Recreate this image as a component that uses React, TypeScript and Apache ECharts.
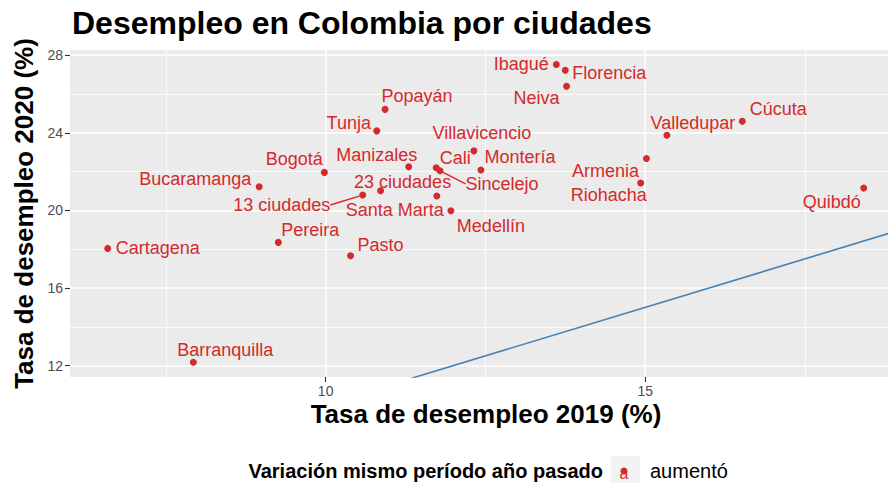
import React, { useEffect, useRef } from "react";
import * as echarts from "echarts";

// ---- data ----
const cities = [
  "Cartagena", "Barranquilla", "Pereira", "Pasto", "Bucaramanga", "Bogotá",
  "13 ciudades", "23 ciudades", "Tunja", "Popayán", "Manizales", "Cali",
  "Sincelejo", "Santa Marta", "Medellín", "Villavicencio", "Montería",
  "Ibagué", "Florencia", "Neiva", "Armenia", "Riohacha", "Valledupar",
  "Cúcuta", "Quibdó",
];
const desempleo2019 = [
  6.59, 7.93, 9.26, 10.39, 8.96, 9.98,
  10.58, 10.86, 10.8, 10.93, 11.3, 11.73,
  11.79, 11.74, 11.96, 12.32, 12.43,
  13.61, 13.75, 13.77, 15.02, 14.93, 15.34,
  16.52, 18.42,
];
const desempleo2020 = [
  18.04, 12.17, 18.35, 17.66, 21.22, 21.96,
  20.79, 21.01, 24.1, 25.21, 22.25, 22.2,
  22.04, 20.74, 19.98, 23.07, 22.08,
  27.52, 27.23, 26.4, 22.68, 21.41, 23.87,
  24.6, 21.15,
];
const xMajorTicks = [10, 15];
const xMinorTicks = [7.5, 12.5, 17.5];
const yMajorTicks = [12, 16, 20, 24, 28];
const yMinorTicks = [14, 18, 22, 26];
const xRange = [6.0, 18.8];
const yRange = [11.41, 28.27];
const titleText = "Desempleo en Colombia por ciudades";
const xTitle = "Tasa de desempleo 2019 (%)";
const yTitle = "Tasa de desempleo 2020 (%)";
const legendTitle = "Variación mismo período año pasado";
const legendLabel = "aumentó";

// ---- label placement (repel-style nudges, px) ----
const labelNudge: Record<string, [number, number]> = {
  "Cartagena": [50, 0],
  "Barranquilla": [32, -12],
  "Pereira": [32, -12],
  "Pasto": [30, -11],
  "Bucaramanga": [-64, -8],
  "Bogotá": [-30, -13],
  "13 ciudades": [-81, 10],
  "23 ciudades": [22, -9],
  "Tunja": [-28, -8],
  "Popayán": [32, -13],
  "Manizales": [-32, -12],
  "Cali": [19, -10],
  "Sincelejo": [62, 13],
  "Santa Marta": [-42, 14],
  "Medellín": [40, 15],
  "Villavicencio": [8, -18],
  "Montería": [39, -13],
  "Ibagué": [-35, -1],
  "Florencia": [44, 3],
  "Neiva": [-30, 12],
  "Armenia": [-41, 13],
  "Riohacha": [-32, 12],
  "Valledupar": [26, -12],
  "Cúcuta": [36, -12],
  "Quibdó": [-32, 14],
};
const withSegment = ["13 ciudades", "Sincelejo"];

const RED = "#D42A2B";
const FONT = '"Liberation Sans", Arial, Helvetica, sans-serif';

export default function App() {
  const ref = useRef<HTMLDivElement>(null);
  useEffect(() => {
    if (!ref.current) return;
    const chart = echarts.init(ref.current, undefined, { renderer: "svg" });
    const lo = Math.min(xRange[0], yRange[0]);
    const hi = Math.max(xRange[1], yRange[1]);
    const identity = [[lo, lo], [hi, hi]];
    const points = cities.map((c, i) => ({
      name: c,
      value: [desempleo2019[i], desempleo2020[i]],
      labelLine: withSegment.includes(c)
        ? { show: true, lineStyle: { color: RED, width: 1.5 } }
        : { show: false },
    }));
    const option: any = {
      animation: false,
      backgroundColor: "#FFFFFF",
      textStyle: { fontFamily: FONT },
      title: {
        text: titleText,
        left: 72,
        top: 7,
        padding: 0,
        textStyle: { fontSize: 32, fontWeight: "bold", color: "#000", fontFamily: FONT },
      },
      grid: {
        left: 70,
        top: 50,
        width: 818,
        height: 327,
        show: true,
        backgroundColor: "#EBEBEB",
        borderWidth: 0,
      },
      xAxis: [
        {
          type: "value",
          min: xRange[0],
          max: xRange[1],
          position: "bottom",
          axisLine: { show: false },
          axisTick: { show: true, length: 5, lineStyle: { color: "#333333", width: 1.1 }, customValues: xMajorTicks },
          axisLabel: { customValues: xMajorTicks, color: "#4D4D4D", fontSize: 14, margin: 7, fontFamily: FONT },
          splitLine: { show: true, lineStyle: { color: "#FFFFFF", width: 1.5 } },
        },
        {
          type: "value",
          min: xRange[0],
          max: xRange[1],
          position: "top",
          axisLine: { show: false },
          axisTick: { show: false, customValues: xMinorTicks },
          axisLabel: { show: false },
          splitLine: { show: true, lineStyle: { color: "#FFFFFF", width: 0.8 } },
        },
      ],
      yAxis: [
        {
          type: "value",
          min: yRange[0],
          max: yRange[1],
          position: "left",
          axisLine: { show: false },
          axisTick: { show: true, length: 5, lineStyle: { color: "#333333", width: 1.1 }, customValues: yMajorTicks },
          axisLabel: { customValues: yMajorTicks, color: "#4D4D4D", fontSize: 14, margin: 7, fontFamily: FONT },
          splitLine: { show: true, lineStyle: { color: "#FFFFFF", width: 1.5 } },
        },
        {
          type: "value",
          min: yRange[0],
          max: yRange[1],
          position: "right",
          axisLine: { show: false },
          axisTick: { show: false, customValues: yMinorTicks },
          axisLabel: { show: false },
          splitLine: { show: true, lineStyle: { color: "#FFFFFF", width: 0.8 } },
        },
      ],
      series: [
        {
          type: "line",
          data: identity,
          symbol: "none",
          showSymbol: false,
          clip: true,
          silent: true,
          lineStyle: { color: "#4682B4", width: 1.6 },
          z: 1,
        },
        {
          type: "scatter",
          name: legendLabel,
          symbolSize: 7,
          itemStyle: { color: RED, opacity: 1 },
          label: {
            show: true,
            position: "inside",
            formatter: "{b}",
            color: RED,
            fontSize: 18,
            fontFamily: FONT,
            textBorderWidth: 0,
          },
          labelLayout: (p: any) => {
            const n = cities[p.dataIndex];
            const d = labelNudge[n] || [0, 0];
            return { dx: d[0], dy: d[1] };
          },
          labelLine: { show: false },
          data: points,
          z: 3,
        },
      ],
      graphic: [
        {
          type: "text",
          x: 24,
          y: 213.5,
          rotation: Math.PI / 2,
          style: {
            text: yTitle,
            fill: "#000",
            fontSize: 26,
            fontWeight: "bold",
            fontFamily: FONT,
            textAlign: "center",
            textVerticalAlign: "middle",
          },
        },
        {
          type: "text",
          x: 486,
          y: 414,
          style: {
            text: xTitle,
            fill: "#000",
            fontSize: 26,
            fontWeight: "bold",
            fontFamily: FONT,
            textAlign: "center",
            textVerticalAlign: "middle",
          },
        },
        {
          type: "text",
          x: 603,
          y: 471,
          style: {
            text: legendTitle,
            fill: "#000",
            fontSize: 20,
            fontWeight: "bold",
            fontFamily: FONT,
            textAlign: "right",
            textVerticalAlign: "middle",
          },
        },
        {
          type: "rect",
          shape: { x: 611, y: 456, width: 29, height: 30 },
          style: { fill: "#F2F2F2" },
        },
        {
          type: "text",
          x: 624,
          y: 473,
          style: {
            text: "a",
            fill: RED,
            fontSize: 16,
            fontFamily: FONT,
            textAlign: "center",
            textVerticalAlign: "middle",
          },
        },
        {
          type: "circle",
          shape: { cx: 624, cy: 471, r: 3.5 },
          style: { fill: RED },
        },
        {
          type: "text",
          x: 650,
          y: 471,
          style: {
            text: legendLabel,
            fill: "#000",
            fontSize: 20,
            fontFamily: FONT,
            textAlign: "left",
            textVerticalAlign: "middle",
          },
        },
      ],
    };
    chart.setOption(option);
    return () => chart.dispose();
  }, []);
  return (
    <div
      ref={ref}
      style={{ position: "fixed", left: 0, top: 0, width: 888, height: 483, background: "#fff" }}
    />
  );
}
